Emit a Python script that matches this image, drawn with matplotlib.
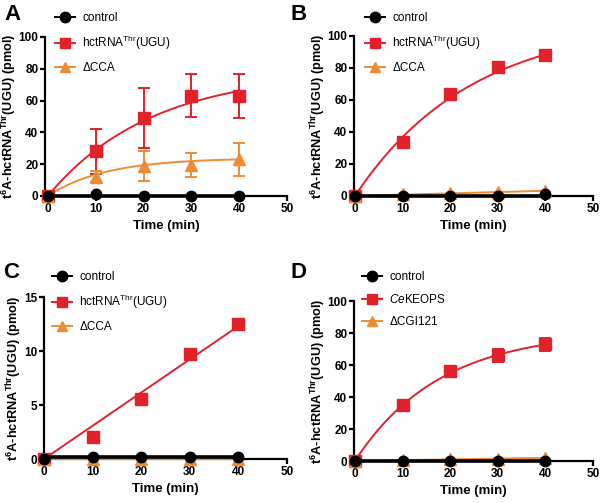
import numpy as np
import matplotlib.pyplot as plt
from matplotlib.lines import Line2D

plt.rcParams['font.family'] = ['Liberation Sans', 'DejaVu Sans']
plt.rcParams['mathtext.fontset'] = 'custom'
plt.rcParams['mathtext.rm'] = 'Liberation Sans'
plt.rcParams['mathtext.it'] = 'Liberation Sans:italic'
plt.rcParams['mathtext.bf'] = 'Liberation Sans:bold'

# Data
time = [0, 10, 20, 30, 40]

# panel A
a_ctrl = [0, 1, 0, 0, 0]
a_wt = [0, 28, 49, 63, 63]
a_wt_err = [0, 14, 19, 13.5, 14]
a_dcca = [0, 12, 19, 19.5, 23]
a_dcca_err = [0, 3.5, 9.5, 7.5, 10.5]
a_wt_fit = (78.4, 0.0462)     # Ymax, k of one-phase fit
a_dcca_fit = (23.9, 0.0832)

# panel B
b_ctrl = [0, 0, 0, 0, 1]
b_wt = [0, 33.5, 64, 80.5, 88]
b_dcca = [0, 1, 2, 2.5, 3]
b_wt_fit = (110.0, 0.0408)

# panel C
c_ctrl = [0, 0.2, 0.2, 0.15, 0.2]
c_wt = [0, 2, 5.6, 9.7, 12.5]
c_wt_err = [0, 0, 0.1, 0.4, 0.1]
c_dcca = [0, 0, 0, 0, 0]

# panel D
d_ctrl = [0, 0, 0, 0, 0]
d_wt = [0, 35, 56, 66, 73]
d_wt_err = [0, 1, 1, 4, 4]
d_dcgi = [0, 0.5, 1, 1.5, 2]
d_wt_fit = (81.4, 0.0562)

RED = '#E3212B'
ORANGE = '#EE8C35'
BLACK = '#000000'

ylab = r'$\mathbf{t^{6}A}$-hctRNA$^{\mathbf{Thr}}$(UGU) (pmol)'
wt_lab = r'hctRNA$^{\mathrm{Thr}}$(UGU)'


def exp_curve(p, t):
    return p[0] * (1 - np.exp(-p[1] * t))


def origin_line(y, t):
    x = np.array(time, float)
    slope = np.dot(x, y) / np.dot(x, x)
    return slope * t


fig = plt.figure(figsize=(6.05, 5.03), dpi=100)
W, H = 605, 503


def make_ax(left, right, top, bottom, x0):
    ax = fig.add_axes([left / W, 1 - bottom / H, (right - left) / W, (bottom - top) / H])
    ax.set_xlim(x0, 50)
    for s in ['top', 'right']:
        ax.spines[s].set_visible(False)
    for s in ['left', 'bottom']:
        ax.spines[s].set_linewidth(1.6)
    ax.tick_params(width=1.6, length=3.5, pad=1.2, labelsize=8.5)
    for lab in ax.get_xticklabels() + ax.get_yticklabels():
        lab.set_fontweight('bold')
    ax.set_xticks([0, 10, 20, 30, 40, 50])
    ax.set_xlabel('Time (min)', fontsize=9.5, fontweight='bold', labelpad=4)
    ax.set_ylabel(ylab, fontsize=9.2, fontweight='bold', labelpad=0)
    return ax


def series(ax, y, color, marker, err=None, fit=None, ms=8, lw=1.4, z=3):
    tt = np.linspace(0, 40, 200)
    if fit == 'flat':
        ax.plot([0, 40], [np.mean(y[1:])] * 2, color=color, lw=2.6, zorder=z, clip_on=False)
    elif fit == 'line':
        ax.plot(tt, origin_line(y, tt), color=color, lw=lw, zorder=z, clip_on=False)
    elif fit is not None:
        ax.plot(tt, exp_curve(fit, tt), color=color, lw=lw, zorder=z)
    if err is not None:
        ax.errorbar(time, y, yerr=err, fmt='none', ecolor=color, elinewidth=1.4,
                    capsize=4.5, capthick=1.4, zorder=z, clip_on=False)
    ax.plot(time, y, linestyle='none', marker=marker, color=color, ms=ms,
            zorder=z + 0.5, clip_on=False)


def legend(ax, labels, left, top):
    handles = [
        Line2D([], [], color=BLACK, marker='o', ms=7.5, lw=1.4),
        Line2D([], [], color=RED, marker='s', ms=7.5, lw=1.4),
        Line2D([], [], color=ORANGE, marker='^', ms=7.5, lw=1.4),
    ]
    ax.legend(handles, labels, loc='upper left', bbox_to_anchor=(left / W, 1 - top / H),
              bbox_transform=fig.transFigure, frameon=False, fontsize=8.5,
              borderpad=0, borderaxespad=0, handlelength=1.7, handletextpad=0.6,
              labelspacing=0.85)


# A
ax = make_ax(45, 287, 37, 196, -0.6)
ax.set_ylim(0, 100)
ax.set_yticks([0, 20, 40, 60, 80, 100])
series(ax, a_wt, RED, 's', a_wt_err, a_wt_fit)
series(ax, a_dcca, ORANGE, '^', a_dcca_err, a_dcca_fit)
series(ax, a_ctrl, BLACK, 'o', fit='flat', ms=7.5, z=5)
legend(ax, ['control', wt_lab, 'ΔCCA'], 55, 12)
fig.text(4 / W, 1 - 15 / H, 'A', fontsize=16, fontweight='bold', va='center')

# B
ax = make_ax(354, 593, 36, 196, -0.2)
ax.set_ylim(0, 100)
ax.set_yticks([0, 20, 40, 60, 80, 100])
series(ax, b_wt, RED, 's', fit=b_wt_fit)
series(ax, b_dcca, ORANGE, '^', fit='line')
series(ax, b_ctrl, BLACK, 'o', fit='flat', ms=7.5, z=5)
legend(ax, ['control', wt_lab, 'ΔCCA'], 365, 12)
fig.text(290 / W, 1 - 15 / H, 'B', fontsize=16, fontweight='bold', va='center')

# C
ax = make_ax(44, 287, 297, 459, 0)
ax.set_ylim(0, 15)
ax.set_yticks([0, 5, 10, 15])
series(ax, c_wt, RED, 's', c_wt_err, fit='line')
series(ax, c_dcca, ORANGE, '^', fit='line')
series(ax, c_ctrl, BLACK, 'o', fit='flat', ms=7.5, z=5)
legend(ax, ['control', wt_lab, 'ΔCCA'], 52, 271)
fig.text(3 / W, 1 - 272 / H, 'C', fontsize=16, fontweight='bold', va='center')

# D
ax = make_ax(354, 593, 301, 461, -0.2)
ax.set_ylim(0, 100)
ax.set_yticks([0, 20, 40, 60, 80, 100])
series(ax, d_wt, RED, 's', d_wt_err, d_wt_fit)
series(ax, d_dcgi, ORANGE, '^', fit='line')
series(ax, d_ctrl, BLACK, 'o', fit='flat', ms=7.5, z=5)
legend(ax, ['control', r'$\mathit{Ce}$KEOPS', 'ΔCGI121'], 362, 271)
fig.text(290 / W, 1 - 272 / H, 'D', fontsize=16, fontweight='bold', va='center')

fig.savefig('out.png', dpi=100)
